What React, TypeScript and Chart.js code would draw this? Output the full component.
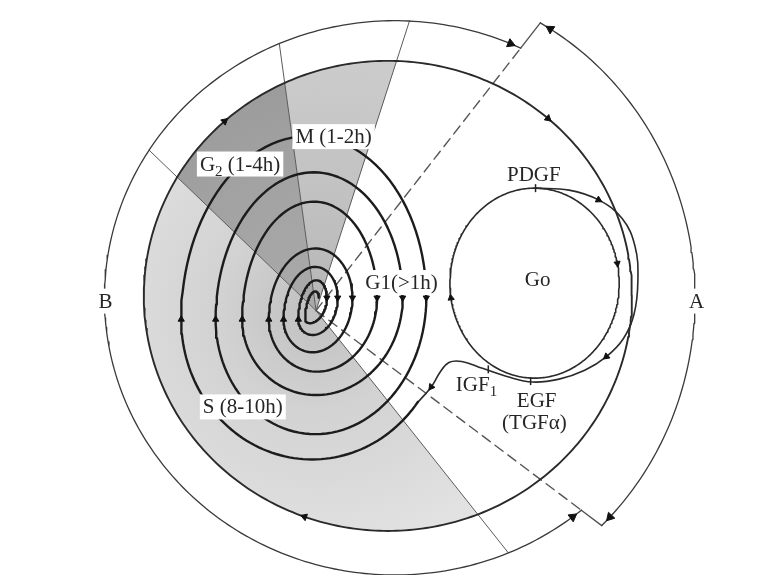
import { useEffect, useRef } from 'react';
import { Chart, registerables } from 'chart.js';

Chart.register(...registerables);

const W = 763;
const H = 581;

// ---- data ----
// cell-cycle phase sectors (degrees, counter-clockwise from 3 o'clock)
const phaseNames = ['G1', 'M', 'G2', 'S'];
const phaseFromDeg = [-51.7, 72.2, 97.8, 136.0];
const phaseToDeg = [72.2, 97.8, 136.0, 308.3];

// spiral: crossings of each loop with the horizontal through the centre
const spiralCentre = [315, 311];
const spiralRightX = [427, 403, 377, 352, 337, 326, 318];
const spiralLeftX = [178, 213, 240, 267, 282, 297, 304];
const spiralTopY = [133, 170, 200, 248, 267, 281, 293];
const spiralBottomY = [437, 397, 373, 353, 335, 322];
const spiralRightLevel = 298;
const spiralLeftLevel = 320;
const spiralEntry = [311, 320, 133, 143]; // first half loop [cx, cy, rx, ry]

// ellipses [cx, cy, rx, ry]
const cycleLoop = [388, 296, 248, 240];
const arcB = [395, 298, 295, 283];
const arcA = [395, 298, 305, 321];
const g0Circle = [537, 283, 86, 97];

// the restriction boundaries (dashed), degrees
const restrictionDeg = [52.2, -37.1];

// growth-factor path from Go back into the cycle
const gfPathX = [538, 572, 602, 626, 639, 642, 638, 627, 610, 588, 562, 535, 508, 484, 463, 450, 441, 432, 419];
const gfPathY = [186, 188, 198, 217, 245, 280, 315, 340, 358, 372, 381, 384, 378, 370, 363, 364, 374, 389, 404];

// arrow positions
const cycleLoopArrowDeg = [132, 49, -110];
const gfPathArrowIdx = [2, 8, 17];
const g0ArrowDeg = [12, 189];
const gfTicks = [[538, 186], [490, 371], [533, 383]];

// texts
const labelText = ['M (1-2h)', 'G|2| (1-4h)', 'S (8-10h)', 'G1(>1h)', 'PDGF', 'Go', 'IGF|1|', 'EGF', '(TGF\u03b1)', 'B', 'A'];
const labelLayout: [number, number, boolean][] = [
  [294, 140, true], [197, 168, true], [200, 416, true], [365, 289, true],
  [509, 179, false], [527, 286, false], [457, 393, false], [519, 409, false],
  [504, 432, false], [94, 308, true], [694, 308, true],
];

// ---- geometry helpers ----
type P = { x: number; y: number };
const rad = (d: number) => (d * Math.PI) / 180;
const deg = (r: number) => (r * 180) / Math.PI;

function onEllipse(e: number[], a: number): P {
  return { x: e[0] + e[2] * Math.cos(rad(a)), y: e[1] - e[3] * Math.sin(rad(a)) };
}
function ellipseArc(e: number[], a0: number, a1: number, step = 1): P[] {
  const n = Math.max(2, Math.ceil(Math.abs(a1 - a0) / step));
  const out: P[] = [];
  for (let i = 0; i <= n; i++) out.push(onEllipse(e, a0 + ((a1 - a0) * i) / n));
  return out;
}
function rayHit(e: number[], ox: number, oy: number, t: number): P {
  const dx = Math.cos(rad(t));
  const dy = -Math.sin(rad(t));
  const px = ox - e[0];
  const py = oy - e[1];
  const A = (dx / e[2]) ** 2 + (dy / e[3]) ** 2;
  const B = 2 * ((px * dx) / e[2] ** 2 + (py * dy) / e[3] ** 2);
  const C = (px / e[2]) ** 2 + (py / e[3]) ** 2 - 1;
  const s = (-B + Math.sqrt(B * B - 4 * A * C)) / (2 * A);
  return { x: ox + s * dx, y: oy + s * dy };
}
function paramOf(e: number[], p: P): number {
  return deg(Math.atan2(-(p.y - e[1]) / e[3], (p.x - e[0]) / e[2]));
}
// rotation (deg, clockwise from up) of the tangent when moving with increasing / decreasing parameter
function tangentRot(e: number[], a: number, increasing: boolean): number {
  let dx = -e[2] * Math.sin(rad(a));
  let dy = -e[3] * Math.cos(rad(a));
  if (!increasing) { dx = -dx; dy = -dy; }
  return deg(Math.atan2(dx, -dy));
}

const [cx0, cy0] = spiralCentre;

function sector(from: number, to: number): P[] {
  const pts: P[] = [{ x: cx0, y: cy0 }];
  for (let t = from; t < to; t += 1) pts.push(rayHit(cycleLoop, cx0, cy0, t));
  pts.push(rayHit(cycleLoop, cx0, cy0, to));
  pts.push({ x: cx0, y: cy0 });
  return pts;
}

function spiral(): P[] {
  const pts: P[] = ellipseArc(spiralEntry, -36, -180, 2);
  const mid = (spiralLeftLevel + spiralRightLevel) / 2;
  for (let i = 0; i < spiralRightX.length; i++) {
    const L = spiralLeftX[i];
    const R = spiralRightX[i];
    const cx = (L + R) / 2;
    const rx = (R - L) / 2;
    const ry = mid - spiralTopY[i];
    for (let a = 180; a >= 0; a -= 3) {
      const base = spiralRightLevel + (spiralLeftLevel - spiralRightLevel) * (a / 180);
      pts.push({ x: cx + rx * Math.cos(rad(a)), y: base - ry * Math.sin(rad(a)) });
    }
    if (i < spiralBottomY.length) {
      const L2 = spiralLeftX[i + 1];
      const bx = (R + L2) / 2;
      const brx = (R - L2) / 2;
      const bry = spiralBottomY[i] - mid;
      for (let a = 0; a >= -180; a -= 3) {
        const base = spiralRightLevel + (spiralLeftLevel - spiralRightLevel) * (-a / 180);
        pts.push({ x: bx + brx * Math.cos(rad(a)), y: base - bry * Math.sin(rad(a)) });
      }
    }
  }
  return pts;
}

function gradient(chart: any, stops: [number, string][], fallback: string) {
  const { ctx, chartArea, scales } = chart;
  if (!chartArea || !scales.x) return fallback;
  const px = scales.x.getPixelForValue(cx0);
  const py = scales.y.getPixelForValue(cy0);
  const g = ctx.createRadialGradient(px, py, 0, px, py, 245);
  stops.forEach(([o, c]) => g.addColorStop(o, c));
  return g;
}

const sectorStyle: Record<string, [number, string][]> = {
  M: [[0, '#b6b6b6'], [0.5, '#c2c2c2'], [1, '#cbcbcb']],
  G2: [[0, '#aaaaaa'], [0.6, '#a2a2a2'], [1, '#9a9a9a']],
  S: [[0, '#c0c0c0'], [0.4, '#d2d2d2'], [1, '#e2e2e2']],
};

const labelPlugin = {
  id: 'diagramLabels',
  afterDatasetsDraw(chart: any) {
    const { ctx, scales } = chart;
    const mainFont = '21px "Liberation Serif", "DejaVu Serif", serif';
    const subFont = '15px "Liberation Serif", "DejaVu Serif", serif';
    ctx.save();
    ctx.textBaseline = 'alphabetic';
    labelText.forEach((txt, i) => {
      const [lx, ly, boxed] = labelLayout[i];
      const x = scales.x.getPixelForValue(lx);
      const y = scales.y.getPixelForValue(ly);
      const parts = txt.split('|');
      let w = 0;
      parts.forEach((p, k) => {
        ctx.font = k % 2 ? subFont : mainFont;
        w += ctx.measureText(p).width;
      });
      if (boxed) {
        ctx.fillStyle = '#ffffff';
        ctx.fillRect(x - 3, y - 19, w + 6, 25);
      }
      let cx = x;
      parts.forEach((p, k) => {
        ctx.font = k % 2 ? subFont : mainFont;
        ctx.fillStyle = '#262626';
        ctx.fillText(p, cx, y + (k % 2 ? 5 : 0));
        cx += ctx.measureText(p).width;
      });
    });
    ctx.restore();
  },
};

function buildConfig(): any {
  const datasets: any[] = [];
  const line = (data: P[], extra: any) => ({
    type: 'scatter', data, showLine: true, pointRadius: 0, pointHoverRadius: 0,
    fill: false, borderJoinStyle: 'round', borderCapStyle: 'round', ...extra,
  });

  // shaded phase sectors
  phaseNames.forEach((name, i) => {
    const stops = sectorStyle[name];
    if (!stops) return;
    datasets.push(line(sector(phaseFromDeg[i], phaseToDeg[i]), {
      order: 30, borderWidth: 0, borderColor: 'rgba(0,0,0,0)', fill: 'shape',
      backgroundColor: (c: any) => gradient(c.chart, stops, stops[stops.length - 1][1]),
    }));
  });

  // radial phase boundaries
  phaseFromDeg.forEach((t) => {
    datasets.push(line([{ x: cx0, y: cy0 }, rayHit(arcB, cx0, cy0, t)], {
      order: 20, borderWidth: 1, borderColor: '#5a5a5a',
    }));
  });

  // restriction boundaries: dashed inside, solid between arcs B and A
  restrictionDeg.forEach((t) => {
    const pb = rayHit(arcB, cx0, cy0, t);
    const pa = rayHit(arcA, cx0, cy0, t);
    datasets.push(line([{ x: cx0, y: cy0 }, pb], { order: 19, borderWidth: 1.4, borderColor: '#555', borderDash: [10, 6] }));
    datasets.push(line([pb, pa], { order: 19, borderWidth: 1.4, borderColor: '#555' }));
  });

  // outer arcs B and A
  const bTop = paramOf(arcB, rayHit(arcB, cx0, cy0, restrictionDeg[0]));
  const bBot = paramOf(arcB, rayHit(arcB, cx0, cy0, restrictionDeg[1])) + 360;
  const aTop = paramOf(arcA, rayHit(arcA, cx0, cy0, restrictionDeg[0]));
  const aBot = paramOf(arcA, rayHit(arcA, cx0, cy0, restrictionDeg[1]));
  datasets.push(line(ellipseArc(arcB, bTop, bBot), { order: 18, borderWidth: 1.3, borderColor: '#3a3a3a' }));
  datasets.push(line(ellipseArc(arcA, aBot, aTop), { order: 18, borderWidth: 1.3, borderColor: '#3a3a3a' }));

  // big cycle loop
  datasets.push(line(ellipseArc(cycleLoop, 0, 360), { order: 12, borderWidth: 1.9, borderColor: '#2a2a2a' }));

  // Go circle and growth-factor path
  datasets.push(line(ellipseArc(g0Circle, 0, 360), { order: 12, borderWidth: 1.6, borderColor: '#2a2a2a' }));
  const gf = gfPathX.map((x, i) => ({ x, y: gfPathY[i] }));
  datasets.push(line(gf, { order: 12, borderWidth: 1.6, borderColor: '#2a2a2a', tension: 0.4 }));

  // spiral
  datasets.push(line(spiral(), { order: 10, borderWidth: 2.4, borderColor: '#1c1c1c' }));

  // arrowheads
  const arrows: P[] = [];
  const rots: number[] = [];
  const sizes: number[] = [];
  const addArrow = (p: P, r: number, s: number) => { arrows.push(p); rots.push(r); sizes.push(s); };
  spiralRightX.slice(0, 6).forEach((x) => addArrow({ x, y: spiralRightLevel }, 180, 3.6));
  spiralLeftX.slice(0, 6).forEach((x) => addArrow({ x, y: spiralLeftLevel }, 0, 3.6));
  cycleLoopArrowDeg.forEach((a) => addArrow(onEllipse(cycleLoop, a), tangentRot(cycleLoop, a, false), 4));
  gfPathArrowIdx.forEach((i) => {
    const dx = gfPathX[i + 1] - gfPathX[i - 1];
    const dy = gfPathY[i + 1] - gfPathY[i - 1];
    addArrow({ x: gfPathX[i], y: gfPathY[i] }, deg(Math.atan2(dx, -dy)), 3.8);
  });
  g0ArrowDeg.forEach((a) => addArrow(onEllipse(g0Circle, a), tangentRot(g0Circle, a, false), 3.6));
  addArrow(onEllipse(arcB, bTop + 2.2), tangentRot(arcB, bTop + 2.2, false), 5);
  addArrow(onEllipse(arcB, bBot - 2.2), tangentRot(arcB, bBot - 2.2, true), 5);
  addArrow(onEllipse(arcA, aTop - 2.2), tangentRot(arcA, aTop - 2.2, true), 5);
  addArrow(onEllipse(arcA, aBot + 2.2), tangentRot(arcA, aBot + 2.2, false), 5);
  datasets.push({
    type: 'scatter', data: arrows, order: 1, pointStyle: 'triangle', pointRadius: sizes,
    pointRotation: rots, backgroundColor: '#111', borderColor: '#111', borderWidth: 1, showLine: false,
  });

  // factor ticks
  datasets.push({
    type: 'scatter', data: gfTicks.map(([x, y]) => ({ x, y })), order: 1, pointStyle: 'line',
    pointRadius: 4, pointRotation: 90, borderColor: '#222', borderWidth: 1.5, showLine: false,
  });

  return {
    type: 'scatter',
    data: { datasets },
    options: {
      responsive: false,
      maintainAspectRatio: false,
      animation: false,
      devicePixelRatio: 1,
      events: [],
      layout: { padding: 0 },
      plugins: { legend: { display: false }, tooltip: { enabled: false } },
      scales: {
        x: { type: 'linear', min: 0, max: W, display: false },
        y: { type: 'linear', min: 0, max: H, reverse: true, display: false },
      },
    },
    plugins: [labelPlugin],
  };
}

export default function App() {
  const ref = useRef<HTMLCanvasElement | null>(null);
  useEffect(() => {
    document.body.style.margin = '0';
    document.body.style.background = '#ffffff';
    const canvas = ref.current;
    if (!canvas) return;
    const chart = new Chart(canvas, buildConfig());
    return () => chart.destroy();
  }, []);
  return <canvas ref={ref} width={W} height={H} style={{ display: 'block', width: W, height: H }} />;
}
